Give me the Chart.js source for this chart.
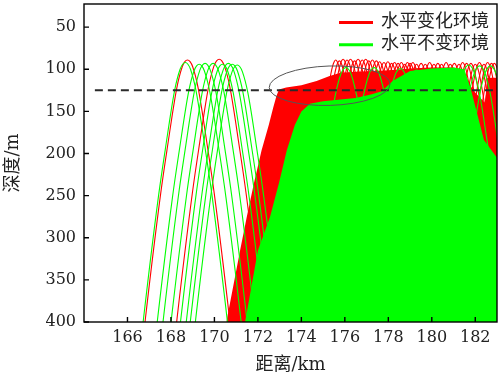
<!DOCTYPE html>
<html>
<head>
<meta charset="utf-8">
<script src="https://cdn.jsdelivr.net/npm/chart.js@4.4.1/dist/chart.umd.min.js"></script>
<style>
  html, body { margin: 0; padding: 0; background: #fff; }
</style>
</head>
<body>
<canvas id="myChart" width="498" height="378"></canvas>
<script>
// axis ticks
const xTicks = [166, 168, 170, 172, 174, 176, 178, 180, 182];
const yTicks = [50, 100, 150, 200, 250, 300, 350, 400];

// single rays on the left (apex position / apex depth)
const redLeftApexKm = [168.76, 170.22];
const redLeftApexDepth = [89, 88];
const greenLeftApexKm = [168.66, 169.30, 169.57, 169.94, 170.37, 170.64, 170.82, 171.05];
const greenLeftApexDepth = [92, 94, 93, 93, 94, 93, 94, 95];

// shape of one ray loop: km from apex, metres below apex
const rayOffsetKm = [-2.2, -1.94, -1.23, -0.92, -0.49, -0.24, -0.12, 0, 0.12, 0.24, 0.49, 0.92, 1.23, 1.94, 2.2];
const rayDrop = [370, 308, 158, 103, 33, 8, 2, 0, 2, 8, 33, 103, 158, 308, 370];

// narrower loops at the top of the red bundle
const topOffsetKm = [-1.6, -1.0, -0.6, -0.35, -0.22, -0.14, -0.07, 0, 0.07, 0.14, 0.22, 0.35, 0.6, 1.0, 1.6];
const topDrop = [330, 160, 80, 35, 16, 7, 2, 0, 2, 7, 16, 35, 80, 160, 330];

// loops on top of the dense bundles
const redTopApexKm = [175.58, 175.75, 175.92, 176.1, 176.26, 176.45, 176.61, 176.8, 176.96, 177.1, 177.27, 177.45,
  177.6, 177.8, 177.98, 178.15, 178.29, 178.45, 178.6, 178.75, 178.88, 179.0, 179.13, 179.3, 179.51, 179.7,
  179.9, 180.1, 180.28, 180.45, 180.66, 180.85, 181.04, 181.25, 181.42, 181.6, 181.8, 182.0, 182.19, 182.4,
  182.57, 182.75, 182.88];
const redTopApexDepth = [89, 90, 88, 89, 88, 90, 88, 89, 88, 90, 89, 90,
  91, 92, 91, 93, 92, 93, 92, 94, 92, 93, 92, 94, 93, 94,
  92, 94, 93, 94, 92, 94, 93, 94, 92, 93, 93, 94, 92, 94,
  92, 93, 93];
const greenTopApexKm = [176.05, 177.35, 178.55, 179.3, 181.7, 182.2, 182.7];
const greenTopApexDepth = [98, 98, 99, 101, 95, 96, 96];

// outline of the dense bundles (upper edge)
const redMassKm = [170.55, 171.18, 171.49, 171.82, 172.17, 172.5, 172.7, 172.85, 172.97, 173.3, 174.0, 174.7, 175.3,
  175.8, 176.5, 177.3, 178.0, 179.0, 180.0, 181.0, 181.4, 181.9, 182.45, 182.55, 183.5];
const redMassDepth = [400, 315, 275, 235, 196, 166, 146, 132, 124, 121.5, 119, 114, 108,
  104, 103, 102, 101, 99, 98, 98, 100, 125, 140, 110, 110];
const greenMassKm = [171.41, 172.0, 172.56, 172.97, 173.33, 173.7, 174.0, 174.39, 175.0, 175.8, 176.5, 177.2, 177.7,
  178.2, 178.6, 179.0, 180.0, 181.0, 181.5, 181.8, 182.4, 183.0, 183.5];
const greenMassDepth = [400, 315, 275, 235, 196, 166, 150, 141, 138, 136, 134, 130, 126,
  114, 108, 102, 99, 98, 100, 124, 184, 205, 210];

// reference depth line and highlighted region
const refDepth = 125;
const refFromKm = 164.5;
const ellipseKm = 175.3, ellipseDepth = 119.5, ellipseHalfKm = 2.78, ellipseHalfDepth = 23.4;

const RED = '#ff0000';
const GREEN = '#00ff00';

function loop(km, depth, offs, drops) {
  return offs.map((o, i) => ({ x: km + o, y: depth + drops[i] }));
}

function rayLines(kms, depths, offs, drops, color) {
  return kms.map((k, i) => ({
    data: loop(k, depths[i], offs, drops),
    borderColor: color,
    borderWidth: 1.1,
    pointRadius: 0,
    fill: false,
    cubicInterpolationMode: 'monotone'
  }));
}

function mass(kms, depths, color) {
  return {
    data: kms.map((k, i) => ({ x: k, y: depths[i] })),
    borderColor: color,
    borderWidth: 0,
    backgroundColor: color,
    pointRadius: 0,
    tension: 0,
    fill: { value: 400 }
  };
}

// first dataset is drawn on top
const datasets = [
  {
    data: [{ x: refFromKm, y: refDepth }, { x: 183, y: refDepth }],
    borderColor: '#2a2a2a',
    borderWidth: 2,
    borderDash: [8, 5],
    pointRadius: 0,
    fill: false
  },
  ...rayLines(greenLeftApexKm, greenLeftApexDepth, rayOffsetKm, rayDrop, GREEN),
  ...rayLines(greenTopApexKm, greenTopApexDepth, rayOffsetKm, rayDrop, GREEN),
  mass(greenMassKm, greenMassDepth, GREEN),
  ...rayLines(redLeftApexKm, redLeftApexDepth, rayOffsetKm, rayDrop, RED),
  ...rayLines(redTopApexKm, redTopApexDepth, topOffsetKm, topDrop, RED),
  mass(redMassKm, redMassDepth, RED)
];

const serif = "'DejaVu Serif', 'Noto Sans CJK SC', serif";

const framePlugin = {
  id: 'frame',
  afterDatasetsDraw(chart) {
    const { ctx, chartArea: a, scales } = chart;
    ctx.save();
    // highlighted region
    const cx = scales.x.getPixelForValue(ellipseKm);
    const cy = scales.y.getPixelForValue(ellipseDepth);
    const rx = scales.x.getPixelForValue(ellipseKm + ellipseHalfKm) - cx;
    const ry = scales.y.getPixelForValue(ellipseDepth + ellipseHalfDepth) - cy;
    ctx.beginPath();
    ctx.ellipse(cx, cy, rx, ry, -0.03, 0, Math.PI * 2);
    ctx.strokeStyle = '#555';
    ctx.lineWidth = 1;
    ctx.stroke();
    // box and inward ticks
    ctx.strokeStyle = '#000';
    ctx.lineWidth = 1.4;
    ctx.strokeRect(a.left, a.top, a.right - a.left, a.bottom - a.top);
    ctx.beginPath();
    xTicks.forEach(v => {
      const px = scales.x.getPixelForValue(v);
      ctx.moveTo(px, a.bottom);
      ctx.lineTo(px, a.bottom - 5);
    });
    yTicks.forEach(v => {
      const py = scales.y.getPixelForValue(v);
      ctx.moveTo(a.left, py);
      ctx.lineTo(a.left + 5, py);
    });
    ctx.stroke();
    // legend
    const items = [['水平变化环境', RED], ['水平不变环境', GREEN]];
    ctx.font = '18px ' + serif;
    ctx.textBaseline = 'middle';
    ctx.textAlign = 'left';
    items.forEach((it, i) => {
      const y = a.top + 18.5 + i * 22.3;
      ctx.beginPath();
      ctx.moveTo(a.right - 158, y);
      ctx.lineTo(a.right - 124, y);
      ctx.strokeStyle = it[1];
      ctx.lineWidth = 3;
      ctx.stroke();
      ctx.fillStyle = '#222';
      ctx.fillText(it[0], a.right - 116, y);
    });
    ctx.restore();
  }
};

const config = {
  type: 'line',
  data: { datasets: datasets },
  options: {
    responsive: false,
    animation: false,
    events: [],
    layout: { padding: { top: 4, right: 1, left: 0, bottom: 0 } },
    plugins: { legend: { display: false }, tooltip: { enabled: false } },
    scales: {
      x: {
        type: 'linear',
        min: 164,
        max: 183,
        afterBuildTicks: s => { s.ticks = xTicks.map(v => ({ value: v })); },
        afterFit: s => { s.height = 56; s.paddingLeft = 0; s.paddingRight = 0; },
        grid: { display: false, drawTicks: false },
        border: { display: false },
        ticks: { padding: 6, color: '#222', font: { family: serif, size: 16 } },
        title: { display: true, text: '距离/km', color: '#222', padding: { top: 0, bottom: 2 }, font: { family: serif, size: 18 } }
      },
      y: {
        type: 'linear',
        reverse: true,
        min: 22.5,
        max: 400,
        afterBuildTicks: s => { s.ticks = yTicks.map(v => ({ value: v })); },
        afterFit: s => { s.width = 84; s.paddingTop = 0; s.paddingBottom = 0; },
        grid: { display: false, drawTicks: false },
        border: { display: false },
        ticks: { padding: 8, color: '#222', font: { family: serif, size: 16 } },
        title: { display: true, text: '深度/m', color: '#222', padding: { top: 3, bottom: 0 }, font: { family: serif, size: 18 } }
      }
    }
  },
  plugins: [framePlugin]
};

const myChart = new Chart(document.getElementById('myChart'), config);
</script>
</body>
</html>
